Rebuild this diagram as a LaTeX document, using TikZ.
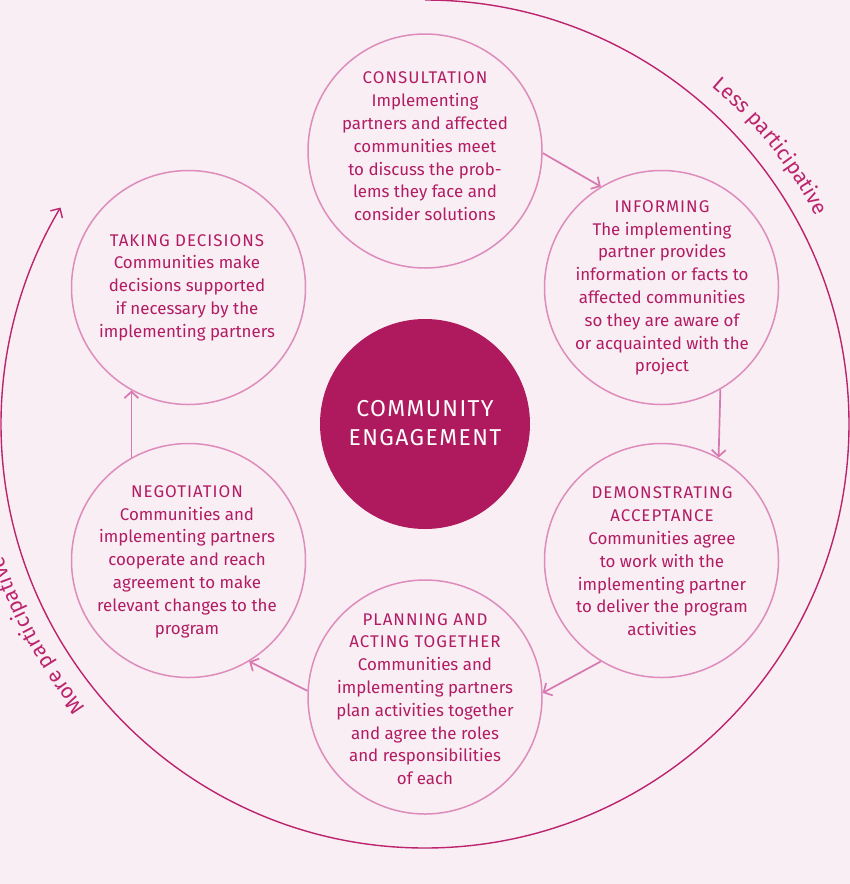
\documentclass[tikz,border=0pt]{standalone}
\usepackage{fontspec}
\setmainfont{Fira Sans}
\usetikzlibrary{arrows.meta,decorations.text}
\definecolor{bg}{RGB}{248,238,243}
\definecolor{mag}{RGB}{175,26,95}
\definecolor{txt}{RGB}{178,28,100}
\definecolor{ring}{RGB}{222,140,188}
\definecolor{arr}{RGB}{216,120,176}
\definecolor{arcc}{RGB}{188,36,110}
\newcommand{\ttl}[1]{{\addfontfeature{LetterSpace=6}#1}}
\begin{document}
\begin{tikzpicture}[x=1pt,y=1pt,
  ringc/.style={circle,draw=ring,line width=1.5pt,minimum size=234pt,inner sep=0pt},
  body/.style={align=center,text=txt,font=\fontsize{16.9}{22.8}\selectfont},
  link/.style={draw=arr,line width=1.7pt,-{Straight Barb[length=6.5pt,width=14pt]}},
  arclabel/.style={decorate,decoration={text along path,text align=center,text color=arcc}}
]
\fill[bg] (0,0) rectangle (850,-884);
\clip (0,0) rectangle (850,-884);
\coordinate (O) at (425,-424);
% centre
\node[circle,fill=mag,minimum size=210pt,inner sep=0pt] (core) at (O) {};
\node[align=center,text=white,font=\fontsize{23}{29}\selectfont] (coretext) at (425,-423.5) {\ttl{COMMUNITY}\\\ttl{ENGAGEMENT}};
% rings
\node[ringc] (cons) at (425,-151) {};
\node[ringc] (inf) at (661.5,-287.5) {};
\node[ringc] (dem) at (661.5,-560.5) {};
\node[ringc] (plan) at (425,-697) {};
\node[ringc] (neg) at (188.5,-560.5) {};
\node[ringc] (take) at (188.5,-287.5) {};
% texts
\node[body] (tcons) at (425,-146.5) {\ttl{CONSULTATION}\\Implementing\\partners and affected\\communities meet\\to discuss the prob-\\lems they face and\\consider solutions};
\node[body] (tinf) at (662,-288) {\ttl{INFORMING}\\The implementing\\partner provides\\information or facts to\\affected communities\\so they are aware of\\or acquainted with the\\project};
\node[body] (tdem) at (662,-561.5) {\ttl{DEMONSTRATING}\\\ttl{ACCEPTANCE}\\Communities agree\\to work with the\\implementing partner\\to deliver the program\\activities};
\node[body] (tplan) at (425,-699) {\ttl{PLANNING AND}\\\ttl{ACTING TOGETHER}\\Communities and\\implementing partners\\plan activities together\\and agree the roles\\and responsibilities\\of each};
\node[body] (tneg) at (187,-561.5) {\ttl{NEGOTIATION}\\Communities and\\implementing partners\\cooperate and reach\\agreement to make\\relevant changes to the\\program};
\node[body] (ttake) at (187,-287.5) {\ttl{TAKING DECISIONS}\\Communities make\\decisions supported\\if necessary by the\\implementing partners};
% connectors
\draw[link] (cons.-1) -- (inf.121);
\draw[link] (inf.-60) -- (dem.61);
\draw[link] (dem.-121) -- (plan.2);
\draw[link] (plan.177) -- (neg.-59);
\draw[link] (neg.119) -- (take.-119);
% outer arc
\draw[arcc,line width=1.4pt,-{Straight Barb[length=7pt,width=14pt]}] (O) ++(90:424) arc[start angle=90,end angle=-210.7,radius=424];
\path[arclabel,decoration={text={|\fontsize{21}{21}\selectfont|Less participative}}] (O) ++(58.8:443) arc[start angle=58.8,end angle=18.8,radius=443];
\path[arclabel,decoration={text={|\fontsize{21}{21}\selectfont|More participative}}] (O) ++(228.6:442) arc[start angle=228.6,end angle=188.6,radius=442];
\end{tikzpicture}
\end{document}
